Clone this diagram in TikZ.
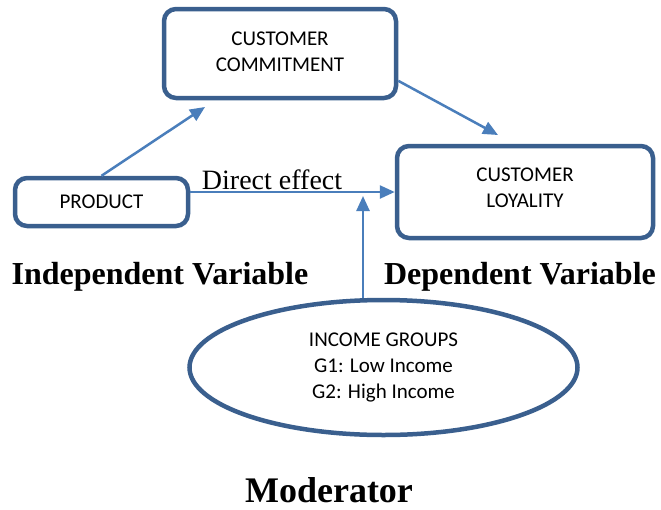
\documentclass[tikz,border=0pt]{standalone}
\usepackage{fontspec}
\setmainfont{Liberation Serif}
\newfontfamily\calibri{Carlito}
\usepackage{tikz}
\usetikzlibrary{arrows.meta,shapes.geometric}

\definecolor{boxblue}{HTML}{3A5F8E}
\definecolor{arrowblue}{HTML}{4A7EBB}

\begin{document}
\begin{tikzpicture}[x=1pt,y=-1pt,->,>={Triangle[length=15pt,width=13pt]}]

  \tikzstyle{block}=[draw=boxblue,line width=4.5pt,rounded corners=12pt,fill=white,
                     align=center,font=\calibri\fontsize{21}{26}\selectfont]
  \tikzstyle{heading}=[anchor=base,font=\bfseries\fontsize{32}{38}\selectfont]
  \tikzstyle{every edge}=[draw=arrowblue,line width=2.5pt]

  \useasboundingbox (0,0) rectangle (661,509);

  \node[block, minimum width=232pt, minimum height=89pt, text depth=4pt] (C) at (280,53.5) {CUSTOMER\\COMMITMENT};
  \node[block, minimum width=173pt, minimum height=48pt]  (P) at (101.5,202) {PRODUCT};
  \node[block, minimum width=256pt, minimum height=92pt, text depth=9pt] (L) at (525,192) {CUSTOMER\\LOYALITY};
  \node[block, ellipse, inner sep=0pt, minimum width=388pt, minimum height=135pt]
                                                          (M) at (383.5,367.5) {INCOME GROUPS\\G1: Low Income\\G2: High Income};

  \node[heading]                                          (IV) at (160,284) {Independent Variable};
  \node[heading]                                          (DV) at (520,284) {Dependent Variable};
  \node[heading, font=\bfseries\fontsize{36}{42}\selectfont] (MOD) at (329,502) {Moderator};

  \coordinate (c1) at (205,107);
  \coordinate (l1) at (498,135);
  \coordinate (v)  at (363,196);

  \path (P.north)          edge (c1)
        (C.-13.4)          edge (l1)
        (P.east |- L.west) edge node[above, pos=0.4, inner sep=1pt,
                                     font=\fontsize{28}{34}\selectfont] {Direct effect} (L.west)
        (v |- M.north)     edge (v);
\end{tikzpicture}
\end{document}
